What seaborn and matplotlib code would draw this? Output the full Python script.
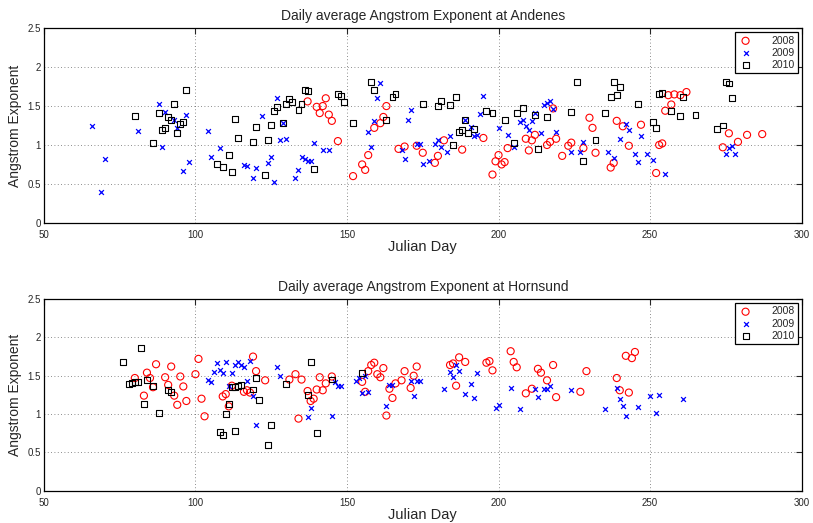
import matplotlib
matplotlib.use("Agg")
import matplotlib.pyplot as plt
import pandas as pd
import seaborn as sns

# Andenes, 2008
and_2008_day = [137, 143, 140, 142, 141, 144, 145, 147, 152, 163, 162, 161, 159, 157, 155, 156,
                167, 169, 173, 175, 180, 179, 182, 188, 195, 200, 199, 198, 201, 202, 203, 209,
                211, 212, 210, 216, 217, 219, 218, 221, 223, 224, 228, 230, 231, 232, 237, 238,
                239, 241, 243, 247, 256, 258, 260, 262, 257, 255, 253, 254, 252, 276, 279, 282,
                287, 274]
and_2008_val = [1.56, 1.60, 1.49, 1.50, 1.41, 1.39, 1.31, 1.05, 0.60, 1.50, 1.36, 1.28, 1.22, 0.87,
                0.75, 0.68, 0.95, 0.98, 0.99, 0.90, 0.86, 0.77, 1.06, 0.94, 1.09, 0.87, 0.79, 0.62,
                0.75, 0.78, 0.96, 1.08, 1.06, 1.13, 0.93, 1.00, 1.04, 1.08, 1.47, 0.86, 0.99, 1.03,
                0.96, 1.35, 1.22, 0.90, 0.71, 0.77, 1.31, 1.24, 0.99, 1.26, 1.64, 1.65, 1.64, 1.68,
                1.52, 1.44, 1.00, 1.02, 0.64, 1.15, 1.04, 1.13, 1.14, 0.97]

# Andenes, 2009
and_2009_day = [66, 70, 69, 81, 88, 90, 97, 93, 94, 89, 98, 96, 104, 105, 127, 122, 129, 128, 130,
                108, 125, 124, 116, 117, 120, 119, 126, 139, 142, 144, 135, 136, 137, 138, 134, 133,
                161, 160, 159, 157, 158, 171, 170, 168, 169, 173, 174, 175, 177, 179, 180, 181, 183,
                184, 189, 191, 192, 193, 195, 194, 200, 203, 205, 207, 208, 209, 210, 211, 212, 214,
                215, 216, 217, 218, 219, 224, 227, 228, 236, 238, 240, 242, 243, 245, 246, 247, 249,
                251, 255, 275, 276, 277, 278]
and_2009_val = [1.24, 0.82, 0.40, 1.18, 1.53, 1.42, 1.39, 1.32, 1.22, 0.97, 0.78, 0.67, 1.18, 0.85,
                1.60, 1.37, 1.28, 1.06, 1.08, 0.96, 0.84, 0.77, 0.74, 0.73, 0.71, 0.58, 0.53, 1.03,
                0.93, 0.93, 0.84, 0.82, 0.80, 0.80, 0.68, 0.57, 1.79, 1.61, 1.31, 1.17, 0.97, 1.45,
                1.32, 0.94, 0.82, 1.01, 1.01, 0.76, 0.80, 1.01, 1.06, 0.97, 0.91, 1.12, 1.32, 1.23,
                1.11, 1.13, 1.63, 1.40, 1.22, 1.13, 0.97, 1.29, 1.32, 1.24, 1.19, 1.31, 1.41, 1.15,
                1.52, 1.54, 1.57, 1.46, 1.17, 0.91, 0.91, 1.04, 0.91, 0.83, 1.08, 1.27, 1.19, 0.89,
                0.78, 1.12, 0.89, 0.81, 0.63, 0.88, 0.96, 0.99, 0.88]

# Andenes, 2010
and_2010_day = [97, 93, 80, 88, 91, 92, 96, 95, 90, 89, 94, 86, 113, 120, 125, 129, 114, 119, 124,
                111, 107, 109, 112, 123, 139, 126, 127, 130, 131, 132, 134, 135, 136, 137, 147, 148,
                149, 152, 158, 159, 165, 166, 163, 175, 180, 181, 184, 186, 189, 188, 187, 190, 192,
                185, 196, 198, 202, 208, 206, 212, 216, 205, 213, 226, 224, 235, 238, 240, 239, 237,
                246, 232, 228, 253, 254, 261, 257, 260, 265, 251, 252, 272, 274, 275, 276, 277]
and_2010_val = [1.71, 1.53, 1.37, 1.41, 1.36, 1.32, 1.30, 1.27, 1.22, 1.19, 1.15, 1.03, 1.33, 1.23,
                1.26, 1.28, 1.09, 1.04, 1.06, 0.87, 0.76, 0.72, 0.65, 0.61, 0.69, 1.44, 1.49, 1.53,
                1.59, 1.55, 1.45, 1.53, 1.71, 1.69, 1.66, 1.63, 1.55, 1.28, 1.81, 1.71, 1.62, 1.65,
                1.32, 1.53, 1.50, 1.57, 1.51, 1.62, 1.32, 1.19, 1.17, 1.15, 1.21, 1.00, 1.44, 1.41,
                1.32, 1.48, 1.41, 1.38, 1.36, 1.03, 0.95, 1.81, 1.42, 1.41, 1.81, 1.74, 1.64, 1.62,
                1.53, 1.06, 0.79, 1.66, 1.67, 1.62, 1.44, 1.37, 1.38, 1.29, 1.22, 1.20, 1.25, 1.81,
                1.79, 1.60]

# Hornsund, 2008
hor_2008_day = [87, 92, 84, 80, 85, 90, 95, 86, 91, 96, 83, 93, 94, 97, 101, 100, 102, 103, 119,
                120, 123, 112, 116, 117, 118, 110, 109, 111, 131, 133, 135, 137, 138, 139, 134, 140,
                141, 142, 143, 145, 155, 156, 157, 158, 159, 160, 161, 162, 164, 165, 163, 166, 168,
                169, 171, 172, 173, 184, 185, 187, 189, 186, 196, 197, 198, 204, 205, 206, 209, 211,
                213, 214, 216, 218, 219, 227, 229, 239, 240, 243, 242, 244, 245]
hor_2008_val = [1.65, 1.62, 1.54, 1.47, 1.47, 1.48, 1.49, 1.35, 1.38, 1.36, 1.24, 1.24, 1.12, 1.17,
                1.72, 1.52, 1.20, 0.97, 1.75, 1.56, 1.44, 1.37, 1.29, 1.31, 1.28, 1.26, 1.23, 1.10,
                1.45, 1.52, 1.45, 1.30, 1.17, 1.20, 0.94, 1.32, 1.48, 1.31, 1.40, 1.49, 1.42, 1.29,
                1.56, 1.64, 1.67, 1.52, 1.48, 1.60, 1.33, 1.21, 0.98, 1.40, 1.44, 1.56, 1.34, 1.50,
                1.62, 1.64, 1.66, 1.74, 1.68, 1.37, 1.67, 1.69, 1.57, 1.82, 1.68, 1.61, 1.27, 1.33,
                1.59, 1.54, 1.44, 1.64, 1.22, 1.29, 1.56, 1.47, 1.31, 1.28, 1.76, 1.73, 1.81]

# Hornsund, 2009
hor_2009_day = [104, 107, 110, 113, 114, 115, 116, 118, 106, 108, 109, 112, 105, 111, 117, 119, 120,
                127, 128, 138, 137, 145, 146, 147, 148, 153, 154, 156, 155, 157, 163, 164, 165, 171,
                173, 174, 172, 182, 184, 186, 185, 187, 189, 191, 192, 193, 199, 200, 204, 207, 212,
                213, 215, 216, 217, 224, 235, 239, 240, 241, 242, 246, 250, 253, 252, 261]
hor_2009_val = [1.44, 1.66, 1.68, 1.64, 1.68, 1.64, 1.62, 1.69, 1.55, 1.57, 1.53, 1.54, 1.42, 1.37,
                1.43, 1.24, 0.85, 1.62, 1.50, 1.08, 0.96, 0.97, 1.42, 1.37, 1.37, 1.43, 1.47, 1.49,
                1.27, 1.29, 1.11, 1.38, 1.38, 1.43, 1.43, 1.43, 1.24, 1.33, 1.55, 1.64, 1.48, 1.56,
                1.26, 1.39, 1.21, 1.54, 1.08, 1.12, 1.34, 1.07, 1.33, 1.22, 1.33, 1.33, 1.37, 1.32,
                1.07, 1.34, 1.20, 1.10, 0.98, 1.09, 1.23, 1.25, 1.01, 1.20]

# Hornsund, 2010
hor_2010_day = [82, 76, 81, 80, 79, 78, 84, 86, 91, 92, 83, 88, 112, 113, 114, 115, 119, 120, 121,
                111, 110, 108, 109, 113, 125, 124, 130, 138, 137, 140, 145, 155]
hor_2010_val = [1.86, 1.68, 1.42, 1.42, 1.41, 1.39, 1.44, 1.37, 1.31, 1.29, 1.13, 1.01, 1.35, 1.35,
                1.36, 1.38, 1.32, 1.47, 1.18, 1.13, 1.00, 0.77, 0.72, 0.78, 0.86, 0.59, 1.39, 1.68,
                1.25, 0.75, 1.45, 1.54]

years = ["2008", "2009", "2010"]
sites = ["Andenes", "Hornsund"]

frames = []
for site, series in [("Andenes", [(and_2008_day, and_2008_val), (and_2009_day, and_2009_val),
                                  (and_2010_day, and_2010_val)]),
                     ("Hornsund", [(hor_2008_day, hor_2008_val), (hor_2009_day, hor_2009_val),
                                   (hor_2010_day, hor_2010_val)])]:
    for year, (d, v) in zip(years, series):
        frames.append(pd.DataFrame({"site": site, "year": year, "day": d, "angstrom": v}))
df = pd.concat(frames, ignore_index=True)

sns.set_style("white")
plt.rcParams["font.family"] = ["Liberation Sans", "DejaVu Sans"]

fig = plt.figure(figsize=(8.13, 5.23), dpi=100)
ax_top = fig.add_axes([0.054, 0.574, 0.932, 0.372])
ax_bot = fig.add_axes([0.054, 0.062, 0.932, 0.366])

style = {
    "2008": dict(marker="o", s=26, facecolor="none", edgecolor="red", linewidth=0.8),
    "2009": dict(marker="x", s=12, color="blue", linewidth=0.9),
    "2010": dict(marker="s", s=18, facecolor="none", edgecolor="black", linewidth=0.8),
}

for ax, site in zip([ax_top, ax_bot], sites):
    sub = df[df["site"] == site]
    for year in years:
        d = sub[sub["year"] == year]
        sns.scatterplot(data=d, x="day", y="angstrom", ax=ax, label=year, **style[year])

    ax.set_xlim(50, 300)
    ax.set_ylim(0, 2.5)
    ax.set_xticks([50, 100, 150, 200, 250, 300])
    ax.set_yticks([0, 0.5, 1, 1.5, 2, 2.5])
    ax.set_yticklabels(["0", "0.5", "1", "1.5", "2", "2.5"])
    ax.grid(True, linestyle=(0, (1, 3)), color="black", linewidth=0.6, alpha=0.6)
    ax.tick_params(direction="in", top=True, right=True, labelsize=7, length=4,
                   width=0.8)
    ax.tick_params(axis="x", pad=5)
    ax.tick_params(axis="y", pad=2)
    for sp in ax.spines.values():
        sp.set_visible(True)
        sp.set_color("black")
        sp.set_linewidth(0.9)
    ax.set_title(f"Daily average Angstrom Exponent at {site}", fontsize=10, pad=6)
    ax.set_xlabel("Julian Day", fontsize=10.5, labelpad=0)
    ax.set_ylabel("Angstrom Exponent", fontsize=10, labelpad=4)
    leg = ax.legend(loc="upper right", fontsize=7.5, frameon=True, fancybox=False,
                    edgecolor="black", framealpha=1, borderaxespad=0.35,
                    labelspacing=0.2, handletextpad=1.8, borderpad=0.35,
                    handlelength=1.3)
    leg.get_frame().set_linewidth(0.9)

fig.savefig("out.png", dpi=100)
